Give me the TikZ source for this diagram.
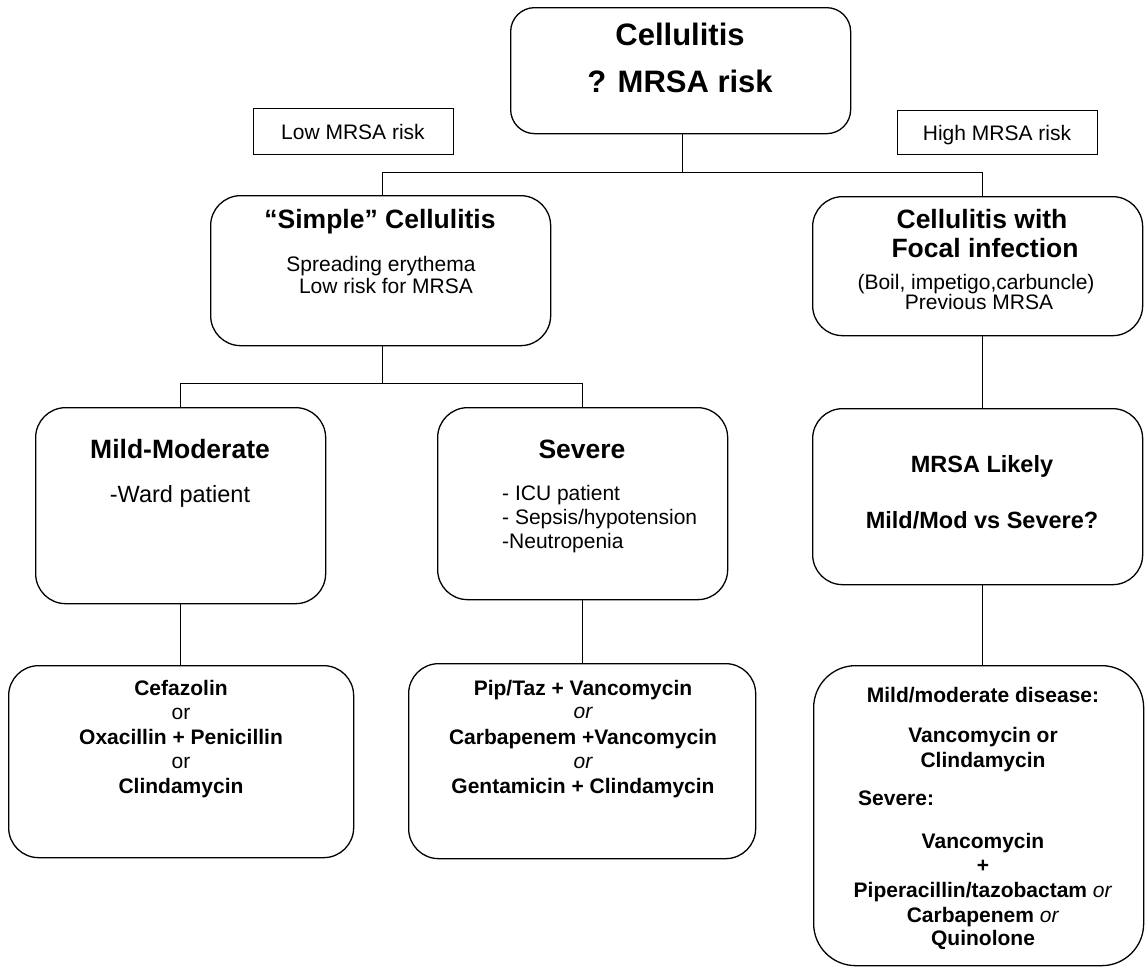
\documentclass[tikz,border=0pt]{standalone}
\usepackage{fontspec}
\setmainfont{Liberation Sans}
\begin{document}
\begin{tikzpicture}[x=1pt,y=-1pt,
  rbox/.style={draw, line width=1.3pt, rounded corners=30pt, inner sep=0pt, anchor=north west},
  sbox/.style={draw, line width=1.1pt, inner sep=0pt, anchor=north west},
  conn/.style={line width=0.9pt},
  txt/.style={anchor=base, inner sep=0pt, font=\fontsize{21}{24}\selectfont},
  ltxt/.style={anchor=base west, inner sep=0pt, font=\fontsize{21}{24}\selectfont},
  btxt/.style={anchor=base, inner sep=0pt, font=\fontsize{21}{24}\selectfont\bfseries},
  head/.style={anchor=base, inner sep=0pt, font=\fontsize{26.5}{30}\selectfont\bfseries},
  mhead/.style={anchor=base, inner sep=0pt, font=\fontsize{23.5}{28}\selectfont\bfseries},
  title/.style={anchor=base, inner sep=0pt, font=\fontsize{31}{36}\selectfont\bfseries}]
\useasboundingbox (0,0) rectangle (1145,970);

% boxes
\node[rbox, rounded corners=24pt, minimum width=340pt, minimum height=126pt] (top) at (510,7) {};
\node[sbox, minimum width=200pt, minimum height=46pt] (low) at (253,108) {};
\node[sbox, minimum width=200pt, minimum height=44pt] (high) at (897,110) {};
\node[rbox, minimum width=340pt, minimum height=150pt] (simple) at (210,195) {};
\node[rbox, minimum width=330pt, minimum height=139pt] (focal) at (812,196) {};
\node[rbox, minimum width=290pt, minimum height=196pt] (mild) at (35,407) {};
\node[rbox, minimum width=290pt, minimum height=192pt] (severe) at (437,407) {};
\node[rbox, minimum width=330pt, minimum height=176pt] (likely) at (812,408) {};
\node[rbox, minimum width=345pt, minimum height=192pt] (cefaz) at (8,665) {};
\node[rbox, minimum width=347pt, minimum height=195pt] (piptaz) at (408,663) {};
\node[rbox, rounded corners=42pt, minimum width=330pt, minimum height=300pt] (final) at (813,665) {};

% texts
\node[title] (t1) at (680,45) {Cellulitis};
\node[title] (t2) at (680,92) {? MRSA risk};
\node[txt] (lowt) at (353,139) {Low MRSA risk};
\node[txt] (hight) at (997,140) {High MRSA risk};

\node[head] (s1) at (380,228) {“Simple” Cellulitis};
\node[txt] (s2) at (381,271) {Spreading erythema};
\node[txt] (s3) at (386,293) {Low risk for MRSA};

\node[head] (f1) at (982,228) {Cellulitis with};
\node[head] (f2) at (985,257) {Focal infection};
\node[txt] (f3) at (976,289) {(Boil, impetigo,carbuncle)};
\node[txt] (f4) at (979,309) {Previous MRSA};

\node[head] (m1) at (180,458) {Mild-Moderate};
\node[txt, font=\fontsize{23.5}{28}\selectfont] (m2) at (180,502) {-Ward patient};

\node[head] (v1) at (582,458) {Severe};
\node[ltxt] (v2) at (502,500) {- ICU patient};
\node[ltxt] (v3) at (502,524) {- Sepsis/hypotension};
\node[ltxt] (v4) at (502,548) {-Neutropenia};

\node[mhead] (k1) at (982,472) {MRSA Likely};
\node[mhead] (k2) at (982,528) {Mild/Mod vs Severe?};

\node[btxt] (c1) at (181,695) {Cefazolin};
\node[txt] (c2) at (181,719) {or};
\node[btxt] (c3) at (181,744) {Oxacillin + Penicillin};
\node[txt] (c4) at (181,768) {or};
\node[btxt] (c5) at (181,793) {Clindamycin};

\node[btxt] (p1) at (583,695) {Pip/Taz + Vancomycin};
\node[txt, font=\fontsize{21}{24}\selectfont\itshape] (p2) at (583,718) {or};
\node[btxt] (p3) at (583,744) {Carbapenem +Vancomycin};
\node[txt, font=\fontsize{21}{24}\selectfont\itshape] (p4) at (583,768) {or};
\node[btxt] (p5) at (583,793) {Gentamicin + Clindamycin};

\node[btxt] (g1) at (983,702) {Mild/moderate disease:};
\node[btxt] (g2) at (983,742) {Vancomycin or};
\node[btxt] (g3) at (983,767) {Clindamycin};
\node[btxt, anchor=base west] (g4) at (858,805) {Severe:};
\node[btxt] (g5) at (983,848) {Vancomycin};
\node[btxt] (g6) at (983,872) {+};
\node[btxt] (g7) at (983,897) {Piperacillin/tazobactam \textmd{\itshape or}};
\node[btxt] (g8) at (983,922) {Carbapenem \textmd{\itshape or}};
\node[btxt] (g9) at (983,945) {Quinolone};

% connectors
\coordinate (j1) at (682,172);
\coordinate (j2) at (382,383);
\draw[conn] (top.south -| j1) -- (j1);
\draw[conn] (j1) -| (simple.north -| 382,0);
\draw[conn] (j1) -| (focal.north -| 982,0);
\draw[conn] (simple.south -| j2) -- (j2);
\draw[conn] (j2) -| (mild.north);
\draw[conn] (j2) -| (severe.north);
\draw[conn] (mild.south) -- (mild.south |- cefaz.north);
\draw[conn] (severe.south) -- (severe.south |- piptaz.north);
\draw[conn] (focal.south -| 982,0) -- (likely.north -| 982,0);
\draw[conn] (likely.south -| 982,0) -- (final.north -| 982,0);
\end{tikzpicture}
\end{document}
